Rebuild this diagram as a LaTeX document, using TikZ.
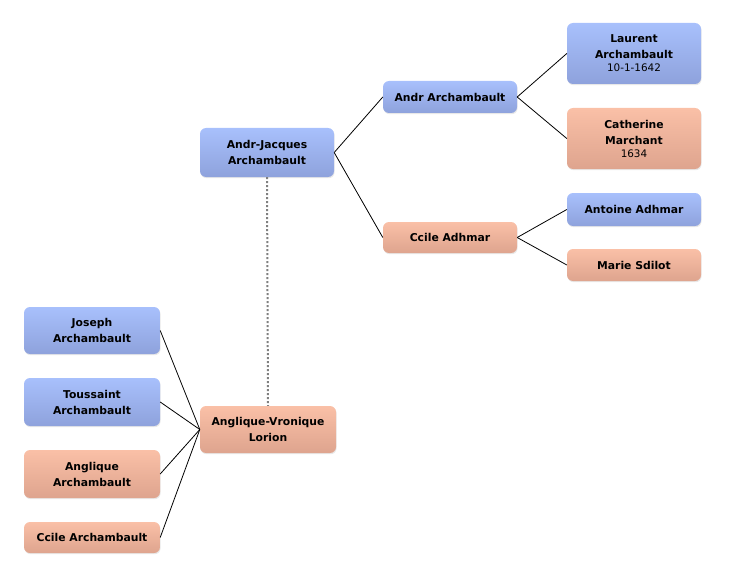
\documentclass[tikz,border=0pt]{standalone}
\usepackage{fontspec}
\setmainfont{DejaVu Sans}
\usetikzlibrary{shadows}
\definecolor{bluetop}{HTML}{A8C0FC}
\definecolor{bluebot}{HTML}{8EA2DC}
\definecolor{orgtop}{HTML}{FAC0A7}
\definecolor{orgbot}{HTML}{DEA48E}
\newcommand{\datefont}{\normalfont\fontsize{10.4}{12}\selectfont}
\tikzset{
  person/.style={rectangle, rounded corners=6pt, minimum width=134pt, inner sep=2pt,
    align=center, font=\fontsize{10.8}{16}\selectfont\bfseries, text=black,
    drop shadow={opacity=0.18, shadow xshift=0.6pt, shadow yshift=-1.2pt}},
  male/.style={person, top color=bluetop, bottom color=bluebot},
  female/.style={person, top color=orgtop, bottom color=orgbot},
  link/.style={draw=black, line width=0.8pt},
  spouse/.style={draw=black!50, line width=2pt, dash pattern=on 2pt off 2pt}
}
\begin{document}
\begin{tikzpicture}[x=1pt,y=-1pt]
\useasboundingbox (0,0) rectangle (732,578);
\node[male, minimum height=49pt] (aj) at (267,152.5) {Andr-Jacques\\Archambault};
\node[male, minimum height=32pt] (an) at (450,97) {Andr Archambault};
\node[female, minimum height=31pt] (ca) at (450,237.5) {Ccile Adhmar};
\node[male, minimum height=61pt] (la) at (634,53.5) {Laurent\\Archambault\\[-3pt]{\datefont 10-1-1642}};
\node[female, minimum height=61pt] (cm) at (634,138.5) {Catherine\\Marchant\\[-3pt]{\datefont 1634}};
\node[male, minimum height=33pt] (aa) at (634,209.5) {Antoine Adhmar};
\node[female, minimum height=32pt] (ms) at (634,265) {Marie Sdilot};
\node[female, minimum height=47pt, minimum width=136pt] (av) at (268,429.5) {Anglique-Vronique\\Lorion};
\node[male, minimum height=47pt, minimum width=136pt] (jo) at (92,330.5) {Joseph\\Archambault};
\node[male, minimum height=48pt, minimum width=136pt] (to) at (92,402) {Toussaint\\Archambault};
\node[female, minimum height=48pt, minimum width=136pt] (ag) at (92,474) {Anglique\\Archambault};
\node[female, minimum height=31pt, minimum width=136pt] (cc) at (92,537.5) {Ccile Archambault};
\draw[link] (aj.east) -- (an.west);
\draw[link] (aj.east) -- (ca.west);
\draw[link] (an.east) -- (la.west);
\draw[link] (an.east) -- (cm.west);
\draw[link] (ca.east) -- (aa.west);
\draw[link] (ca.east) -- (ms.west);
\draw[link] (jo.east) -- (av.west);
\draw[link] (to.east) -- (av.west);
\draw[link] (ag.east) -- (av.west);
\draw[link] (cc.east) -- (av.west);
\draw[spouse] (aj.south) -- (av.north);
\end{tikzpicture}
\end{document}
